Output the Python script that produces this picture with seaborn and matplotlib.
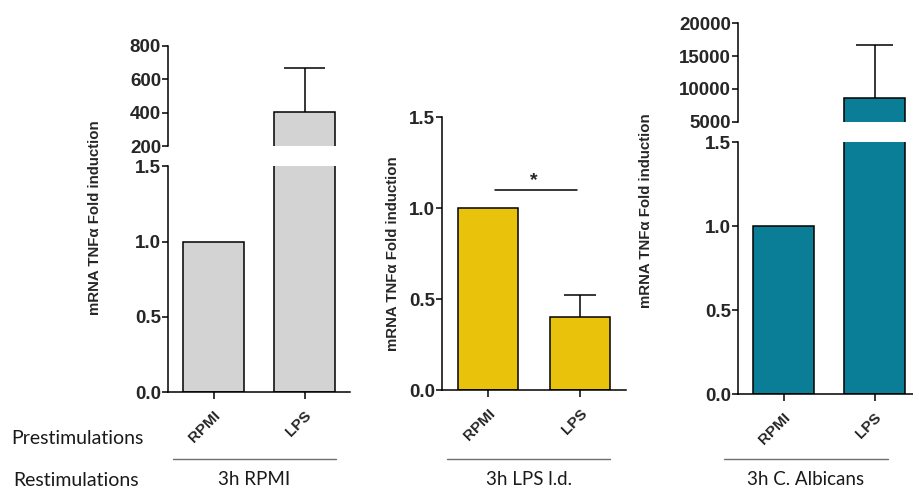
import matplotlib
matplotlib.use("Agg")
import matplotlib.pyplot as plt
import seaborn as sns
import pandas as pd

# ---------------- data ----------------
categories = ["RPMI", "LPS"]
rpmi_values = [1.0, 406.0]        # 3h RPMI restimulation
rpmi_err = [0.0, 260.0]
lps_values = [1.0, 0.40]          # 3h LPS l.d. restimulation
lps_err = [0.0, 0.12]
calb_values = [1.0, 8550.0]       # 3h C. Albicans restimulation
calb_err = [0.0, 8100.0]
group_labels = ["3h RPMI", "3h LPS l.d.", "3h C. Albicans"]
row_labels = ["Prestimulations", "Restimulations"]
ylabel = "mRNA TNF\u03b1 Fold induction"
sig_text = "*"
sig_level = 1.10

lower_ticks = [0.0, 0.5, 1.0, 1.5]
p1_upper_ticks = [200, 400, 600, 800]
p3_upper_ticks = [5000, 10000, 15000, 20000]

colors = ["#D3D3D3", "#E9C20B", "#0A7D97"]

sns.set_theme(style="ticks")
plt.rcParams["font.family"] = ["Liberation Sans", "DejaVu Sans"]

W, H = 913, 490
fig = plt.figure(figsize=(W / 100, H / 100), dpi=100)


def ax_px(left, top, right, bottom):
    return fig.add_axes([left / W, 1 - bottom / H, (right - left) / W, (bottom - top) / H])


LW = 1.1
TFS = 13.5


def style_axis(ax, fs, show_x=True):
    for s in ["top", "right"]:
        ax.spines[s].set_visible(False)
    ax.spines["left"].set_linewidth(LW)
    ax.spines["left"].set_color("black")
    if show_x:
        ax.spines["bottom"].set_linewidth(LW)
        ax.spines["bottom"].set_color("black")
    else:
        ax.spines["bottom"].set_visible(False)
        ax.set_xticks([])
    ax.tick_params(axis="y", length=4, width=LW, color="black", labelsize=fs, pad=1)
    for t in ax.get_yticklabels():
        t.set_fontweight("bold")
    ax.set_xlabel("")
    ax.set_ylabel("")
    ax.set_facecolor("none")


def draw_bars(ax, values, color):
    df = pd.DataFrame({"cond": categories, "val": values})
    sns.barplot(data=df, x="cond", y="val", ax=ax, color=color, saturation=1,
                edgecolor="black", linewidth=LW, width=0.66, errorbar=None, zorder=2)
    ax.set_xlim(-0.5, 1.5)


def draw_err(ax, values, errs, half_cap):
    # one-sided (upper) error bars: stem from bar top plus a cap
    for i, (v, e) in enumerate(zip(values, errs)):
        if e > 0:
            ax.plot([i, i], [v, v + e], color="black", lw=LW, zorder=1,
                    solid_capstyle="butt")
            ax.plot([i - half_cap, i + half_cap], [v + e, v + e], color="black",
                    lw=LW, zorder=1, solid_capstyle="butt")


def xticks(ax, fs):
    ax.set_xticks(range(len(categories)))
    ax.set_xticklabels(categories, rotation=45, ha="right", rotation_mode="anchor",
                       fontweight="bold", fontsize=fs)
    ax.tick_params(axis="x", length=5, width=LW, color="black", pad=7)


def fmt_lower(ax):
    ax.set_ylim(0, 1.5)
    ax.set_yticks(lower_ticks)
    ax.set_yticklabels([f"{t:.1f}" for t in lower_ticks])


# ---------- panel 1 ----------
a1 = ax_px(168, 166.5, 350, 392)
draw_bars(a1, rpmi_values, colors[0])
fmt_lower(a1)
style_axis(a1, TFS)
xticks(a1, 11)

a1u = ax_px(168, 45.7, 350, 146.3)
draw_bars(a1u, rpmi_values, colors[0])
draw_err(a1u, rpmi_values, rpmi_err, 0.22)
a1u.set_ylim(200, 800)
a1u.set_yticks(p1_upper_ticks)
a1u.set_yticklabels([str(t) for t in p1_upper_ticks])
style_axis(a1u, TFS, show_x=False)

# ---------- panel 2 ----------
a2 = ax_px(442, 117.3, 626, 390)
draw_bars(a2, lps_values, colors[1])
draw_err(a2, lps_values, lps_err, 0.175)
fmt_lower(a2)
style_axis(a2, TFS)
xticks(a2, 11)
a2.plot([0.08, 0.97], [sig_level, sig_level], color="black", lw=LW)
a2.text(0.5, sig_level + 0.005, sig_text, ha="center", va="bottom",
        fontsize=14, fontweight="bold")

# ---------- panel 3 ----------
a3 = ax_px(738, 142, 920, 394)
draw_bars(a3, calb_values, colors[2])
fmt_lower(a3)
style_axis(a3, TFS)
xticks(a3, 11)

a3u = ax_px(738, 23.3, 920, 121.7)
draw_bars(a3u, calb_values, colors[2])
draw_err(a3u, calb_values, calb_err, 0.2)
a3u.set_ylim(5000, 20000)
a3u.set_yticks(p3_upper_ticks)
a3u.set_yticklabels([str(t) for t in p3_upper_ticks])
style_axis(a3u, TFS, show_x=False)

# ---------- y labels ----------
for (x, y) in [(95, 218), (393, 254), (646, 211)]:
    fig.text(x / W, 1 - y / H, ylabel, rotation=90, ha="center", va="center",
             fontsize=10.8, fontweight="bold")

# ---------- group annotation ----------
txt_font = ["Lato", "DejaVu Sans"]
fig.text(11 / W, 1 - 438 / H, row_labels[0], ha="left", va="center",
         fontsize=14, family=txt_font, color="#1a1a1a")
fig.text(13 / W, 1 - 480 / H, row_labels[1], ha="left", va="center",
         fontsize=14, family=txt_font, color="#1a1a1a")

for (x0, x1), lab in zip([(173, 336), (447, 610), (724, 888)], group_labels):
    fig.add_artist(plt.Line2D([x0 / W, x1 / W], [1 - 459 / H, 1 - 459 / H],
                              color="#6E6E6E", lw=1.0, transform=fig.transFigure))
    fig.text((x0 + x1) / 2 / W, 1 - 479 / H, lab, ha="center", va="center",
             fontsize=13.5, family=txt_font, color="#1a1a1a")

fig.savefig("out.png", dpi=100)
